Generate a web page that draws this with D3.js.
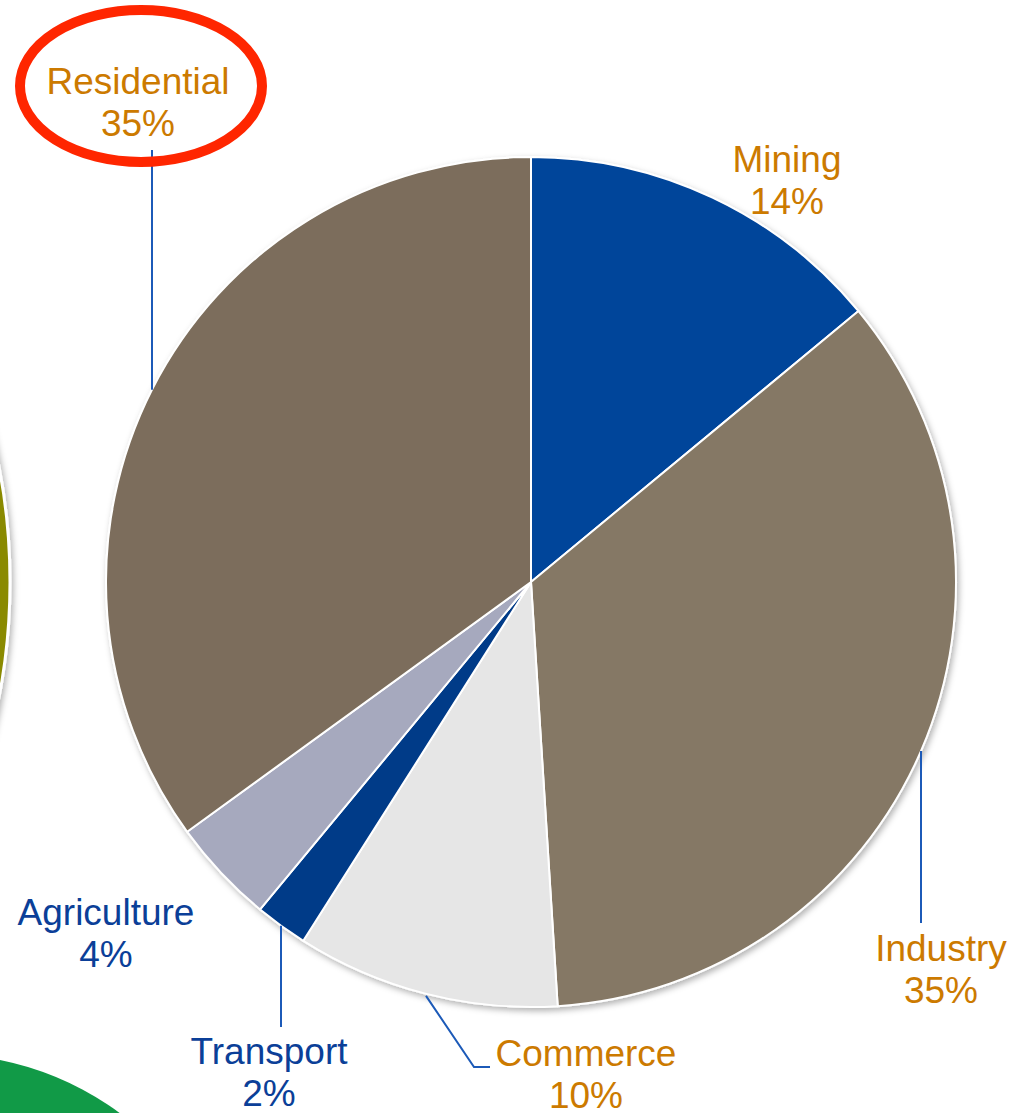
<!DOCTYPE html>
<html>
<head>
<meta charset="utf-8">
<script src="https://cdn.jsdelivr.net/npm/d3@7"></script>
<style>
  html, body { margin: 0; padding: 0; background: #fff; }
  svg { display: block; font-family: "Liberation Sans", Arial, sans-serif; }
</style>
</head>
<body>
<div id="chart"></div>
<script>
// data, clockwise from 12 o'clock
const categories = ["Mining", "Industry", "Commerce", "Transport", "Agriculture", "Residential"];
const shares = [14, 35, 10, 2, 4, 35];
const sliceColors = ["#00449a", "#857865", "#e6e6e6", "#003a88", "#a6a9be", "#7b6d5b"];
const labelColors = ["#cc7a00", "#cc7a00", "#cc7a00", "#0b3f98", "#0b3f98", "#cc7a00"];

const width = 1027, height = 1113;
const cx = 531, cy = 582, radius = 425;

// hand placed labels (centre x, first baseline) and leader anchor x on the rim
const labelLayout = {
    Mining:      { x: 787, y: 172 },
    Industry:    { x: 941, y: 961, lead: 921, to: 923 },
    Commerce:    { x: 586, y: 1066, lead: 426, elbow: [474, 1067], to: 490 },
    Transport:   { x: 269, y: 1064, lead: 281, to: 1027 },
    Agriculture: { x: 106, y: 925 },
    Residential: { x: 138, y: 94, lead: 152, to: 150 }
};

const svg = d3.select("#chart").append("svg")
    .attr("width", width)
    .attr("height", height);

const defs = svg.append("defs");
const shadow = defs.append("filter").attr("id", "shadow")
    .attr("x", "-10%").attr("y", "-10%").attr("width", "120%").attr("height", "120%");
shadow.append("feDropShadow")
    .attr("dx", 2).attr("dy", 3).attr("stdDeviation", 3)
    .attr("flood-color", "#000").attr("flood-opacity", 0.3);

// background decorations from the slide
svg.append("circle")
    .attr("cx", -595).attr("cy", 582).attr("r", 605)
    .attr("fill", "#8a8a00")
    .attr("stroke", "#fff").attr("stroke-width", 3)
    .attr("filter", "url(#shadow)");

svg.append("circle")
    .attr("cx", -60).attr("cy", 1357).attr("r", 303)
    .attr("fill", "#119a47");

// pie
const pie = d3.pie().sort(null).value(d => d.value);
const arc = d3.arc().innerRadius(0).outerRadius(radius);
const data = categories.map((c, i) => ({ name: c, value: shares[i], color: sliceColors[i], label: labelColors[i] }));

const pieGroup = svg.append("g")
    .attr("transform", `translate(${cx},${cy})`)
    .attr("filter", "url(#shadow)");

pieGroup.selectAll("path")
    .data(pie(data))
    .enter()
    .append("path")
    .attr("d", arc)
    .attr("fill", d => d.data.color)
    .attr("stroke", "#fff")
    .attr("stroke-width", 2)
    .attr("stroke-linejoin", "round");

// leader lines
function rimY(x, below) {
    const dx = x - cx;
    const dy = Math.sqrt(radius * radius - dx * dx);
    return below ? cy + dy : cy - dy;
}

const leaders = svg.append("g")
    .attr("fill", "none")
    .attr("stroke", "#1c5ab8")
    .attr("stroke-width", 2);

data.forEach(d => {
    const l = labelLayout[d.name];
    if (l.lead === undefined) return;
    if (d.name === "Residential") {
        leaders.append("line")
            .attr("x1", l.lead).attr("y1", rimY(l.lead, false))
            .attr("x2", l.lead).attr("y2", l.to);
    } else if (d.name === "Commerce") {
        leaders.append("polyline")
            .attr("points", [[l.lead, rimY(l.lead, true) + 2], l.elbow, [l.to, l.elbow[1]]].map(p => p.join(",")).join(" "));
    } else {
        leaders.append("line")
            .attr("x1", l.lead).attr("y1", rimY(l.lead, true))
            .attr("x2", l.lead).attr("y2", l.to);
    }
});

// labels
const labels = svg.append("g")
    .attr("font-size", 37)
    .attr("text-anchor", "middle");

data.forEach(d => {
    const l = labelLayout[d.name];
    const t = labels.append("text")
        .attr("x", l.x).attr("y", l.y)
        .attr("fill", d.label);
    t.append("tspan").attr("x", l.x).text(d.name);
    t.append("tspan").attr("x", l.x).attr("dy", 42).text(d.value + "%");
});

// red highlight ring round the Residential label
svg.append("ellipse")
    .attr("cx", 141).attr("cy", 86)
    .attr("rx", 121).attr("ry", 76)
    .attr("fill", "none")
    .attr("stroke", "#ff2600")
    .attr("stroke-width", 10);
</script>
</body>
</html>
